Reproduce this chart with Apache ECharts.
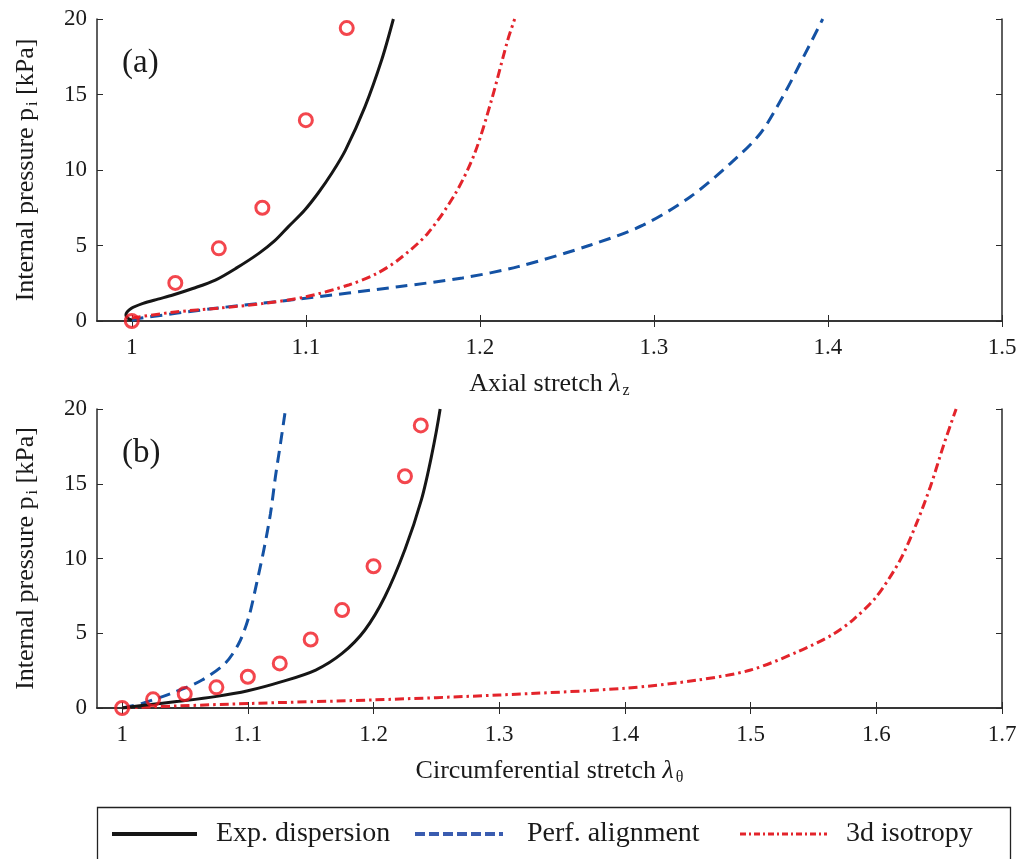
<!DOCTYPE html>
<html>
<head>
<meta charset="utf-8">
<script src="https://cdn.jsdelivr.net/npm/echarts@6/dist/echarts.min.js"></script>
<style>html,body{margin:0;padding:0;background:#fff}#c{width:1029px;height:859px}</style>
</head>
<body>
<div id="c"></div>
<script>
// ---------- Data (panel a: axial stretch) ----------
const aExpX = [1.0, 1.025, 1.05, 1.075, 1.1, 1.1235];
const aExpY = [0, 2.52, 4.81, 7.5, 13.3, 19.4];
const aDispX = [1.0, 0.9975, 0.9966, 0.9998, 1.0065, 1.015, 1.0236, 1.035, 1.048, 1.06, 1.073, 1.082, 1.09, 1.099, 1.107, 1.115, 1.1227, 1.134, 1.1436, 1.1503];
const aDispY = [0.05, 0.2, 0.4, 0.84, 1.17, 1.45, 1.72, 2.15, 2.71, 3.5, 4.48, 5.3, 6.25, 7.3, 8.46, 9.8, 11.3, 14.2, 17.3, 20];
const aAlignX = [1.0, 1.0046, 1.048, 1.096, 1.153, 1.19, 1.222, 1.2636, 1.294, 1.321, 1.344, 1.361, 1.374, 1.386, 1.397];
const aAlignY = [0.05, 0.18, 0.84, 1.45, 2.27, 2.85, 3.6, 5.03, 6.36, 8.23, 10.44, 12.4, 14.85, 17.5, 20];
const aIsoX = [1.0, 1.025, 1.05, 1.075, 1.1, 1.125, 1.14, 1.153, 1.17, 1.186, 1.197, 1.2066, 1.216, 1.22];
const aIsoY = [0.2, 0.6, 0.85, 1.15, 1.6, 2.4, 3.1, 4.04, 5.8, 8.46, 11.1, 14.6, 18.6, 20];

// ---------- Data (panel b: circumferential stretch) ----------
const bExpX = [1.0, 1.0246, 1.0498, 1.075, 1.1, 1.1254, 1.15, 1.175, 1.2, 1.225, 1.2376];
const bExpY = [0, 0.58, 0.94, 1.38, 2.09, 2.98, 4.58, 6.55, 9.48, 15.5, 18.9];
const bDispX = [1.0, 1.019, 1.045, 1.074, 1.1, 1.127, 1.154, 1.175, 1.193, 1.209, 1.225, 1.238, 1.246, 1.253];
const bDispY = [0, 0.2, 0.45, 0.76, 1.15, 1.76, 2.54, 3.65, 5.2, 7.44, 10.6, 13.9, 16.8, 20];
const bAlignX = [1.0, 1.016, 1.0425, 1.0636, 1.082, 1.0929, 1.1008, 1.107, 1.1127, 1.118, 1.122, 1.126, 1.13];
const bAlignY = [0, 0.31, 1.09, 1.87, 2.99, 4.33, 6.1, 8.34, 10.57, 13.0, 15.5, 17.7, 20];
const bIsoX = [1.0, 1.1, 1.2, 1.3, 1.4, 1.458, 1.5, 1.538, 1.565, 1.5815, 1.6, 1.619, 1.632, 1.643, 1.654, 1.6635];
const bIsoY = [0, 0.3, 0.54, 0.87, 1.32, 1.87, 2.54, 3.78, 4.9, 5.9, 7.44, 9.9, 12.35, 14.8, 17.7, 20];

// ---------- Ticks / labels ----------
const aXTicks = [1, 1.1, 1.2, 1.3, 1.4, 1.5];
const bXTicks = [1, 1.1, 1.2, 1.3, 1.4, 1.5, 1.6, 1.7];
const legendNames = ['Exp. dispersion', 'Perf. alignment', '3d isotropy'];
const panelLabels = ['(a)', '(b)'];

const FONT = 'Liberation Serif';
const BLACK = '#161616', BLUE = '#1452a4', RED = '#e3242b', AXIS = '#2a2a2a', TXT = '#1a1a1a';
const DASH = [12, 7];
const DASHDOT = [9, 4, 2.5, 4];

function zip(xs, ys) { return xs.map((x, i) => [x, ys[i]]); }

const chart = echarts.init(document.getElementById('c'), null, { renderer: 'canvas' });

const grids = [
  { left: 97, top: 19, width: 905, height: 302 },
  { left: 97, top: 409, width: 905, height: 299 }
];

const nameRich = {
  n: { fontFamily: FONT, fontSize: 26, color: TXT },
  l: { fontFamily: FONT, fontSize: 26, fontStyle: 'italic', color: TXT },
  s: { fontFamily: FONT, fontSize: 16, color: TXT, padding: [14, 0, 0, 2] }
};

function xAxes(gi, ticks, max, name) {
  return [
    {
      type: 'value', gridIndex: gi, min: 0.98, max: max, position: 'bottom',
      name: name, nameLocation: 'middle', nameGap: 48,
      nameTextStyle: { rich: nameRich },
      axisLine: { show: true, lineStyle: { color: AXIS, width: 1.5 } },
      axisTick: { show: true, inside: true, length: 6, customValues: ticks, lineStyle: { color: AXIS } },
      axisLabel: { customValues: ticks, fontFamily: FONT, fontSize: 23, color: TXT, margin: 15,
        formatter: v => String(Math.round(v * 10) / 10) },
      splitLine: { show: false }
    },
    {
      type: 'value', gridIndex: gi, min: 0.98, max: max, position: 'top',
      axisLine: { show: true, lineStyle: { color: AXIS, width: 1.5 } },
      axisTick: { show: true, inside: true, length: 6, customValues: ticks, lineStyle: { color: AXIS } },
      axisLabel: { show: false }, splitLine: { show: false }
    }
  ];
}
function yAxes(gi) {
  return [
    {
      type: 'value', gridIndex: gi, min: 0, max: 20, interval: 5, position: 'left',
      name: '{n|Internal pressure p}{s|i}{n| [kPa]}', nameLocation: 'middle', nameGap: 56,
      nameTextStyle: { rich: nameRich },
      axisLine: { show: true, lineStyle: { color: AXIS, width: 1.5 } },
      axisTick: { show: true, inside: true, length: 6, lineStyle: { color: AXIS } },
      axisLabel: { fontFamily: FONT, fontSize: 23, color: TXT, margin: 10 },
      splitLine: { show: false }
    },
    {
      type: 'value', gridIndex: gi, min: 0, max: 20, interval: 5, position: 'right',
      axisLine: { show: true, lineStyle: { color: AXIS, width: 1.5 } },
      axisTick: { show: true, inside: true, length: 6, lineStyle: { color: AXIS } },
      axisLabel: { show: false }, splitLine: { show: false }
    }
  ];
}

function lineSeries(name, data, xi, yi, color, type) {
  return {
    name: name, type: 'line', xAxisIndex: xi, yAxisIndex: yi, data: data,
    symbol: 'none', smooth: 0.3, clip: true, z: 3,
    lineStyle: { color: color, width: 3, type: type },
    itemStyle: { color: color }
  };
}
function expSeries(data, xi, yi) {
  return {
    name: 'Experiment', type: 'scatter', xAxisIndex: xi, yAxisIndex: yi, data: data,
    symbol: 'circle', symbolSize: 13, z: 5,
    itemStyle: { color: 'rgba(255,255,255,0)', borderColor: '#f01820', borderWidth: 3 }
  };
}

// legend drawn as graphic elements (line samples + labels)
const LEG_Y = 834;
const legendItems = [
  { x0: 112, x1: 197, tx: 216, color: BLACK, dash: null, width: 4 },
  { x0: 415, x1: 503, tx: 527, color: '#3a5cb0', dash: [10, 4], width: 4 },
  { x0: 740, x1: 827, tx: 846, color: RED, dash: [6, 3, 2, 3], width: 3 }
];
const legendGraphics = [];
legendItems.forEach((it, i) => {
  legendGraphics.push({ type: 'line', silent: true,
    shape: { x1: it.x0, y1: LEG_Y, x2: it.x1, y2: LEG_Y },
    style: { stroke: it.color, lineWidth: it.width, lineDash: it.dash } });
  legendGraphics.push({ type: 'text', silent: true, x: it.tx, y: LEG_Y,
    style: { text: legendNames[i], font: '28px "Liberation Serif"', fill: TXT, textVerticalAlign: 'middle', verticalAlign: 'middle' } });
});

const option = {
  backgroundColor: '#fff',
  animation: false,
  grid: grids,
  xAxis: [...xAxes(0, aXTicks, 1.5, '{n|Axial stretch }{l|λ}{s|z}'), ...xAxes(1, bXTicks, 1.7, '{n|Circumferential stretch }{l|λ}{s|θ}')],
  yAxis: [...yAxes(0), ...yAxes(1)],
  graphic: [
    { type: 'rect', silent: true, shape: { x: 97.5, y: 807.5, width: 913, height: 70 }, style: { fill: 'none', stroke: '#222', lineWidth: 1.3 } },
    { type: 'text', silent: true, left: 122, top: 47, style: { text: panelLabels[0], font: '33px "Liberation Serif"', fill: TXT } },
    { type: 'text', silent: true, left: 122, top: 437, style: { text: panelLabels[1], font: '33px "Liberation Serif"', fill: TXT } },
    ...legendGraphics
  ],
  series: [
    lineSeries(legendNames[1], zip(aAlignX, aAlignY), 0, 0, BLUE, DASH),
    lineSeries(legendNames[2], zip(aIsoX, aIsoY), 0, 0, RED, DASHDOT),
    lineSeries(legendNames[0], zip(aDispX, aDispY), 0, 0, BLACK, 'solid'),
    expSeries(zip(aExpX, aExpY), 0, 0),
    lineSeries(legendNames[1], zip(bAlignX, bAlignY), 2, 2, BLUE, DASH),
    lineSeries(legendNames[2], zip(bIsoX, bIsoY), 2, 2, RED, DASHDOT),
    lineSeries(legendNames[0], zip(bDispX, bDispY), 2, 2, BLACK, 'solid'),
    expSeries(zip(bExpX, bExpY), 2, 2)
  ]
};
chart.setOption(option);
</script>
</body>
</html>
